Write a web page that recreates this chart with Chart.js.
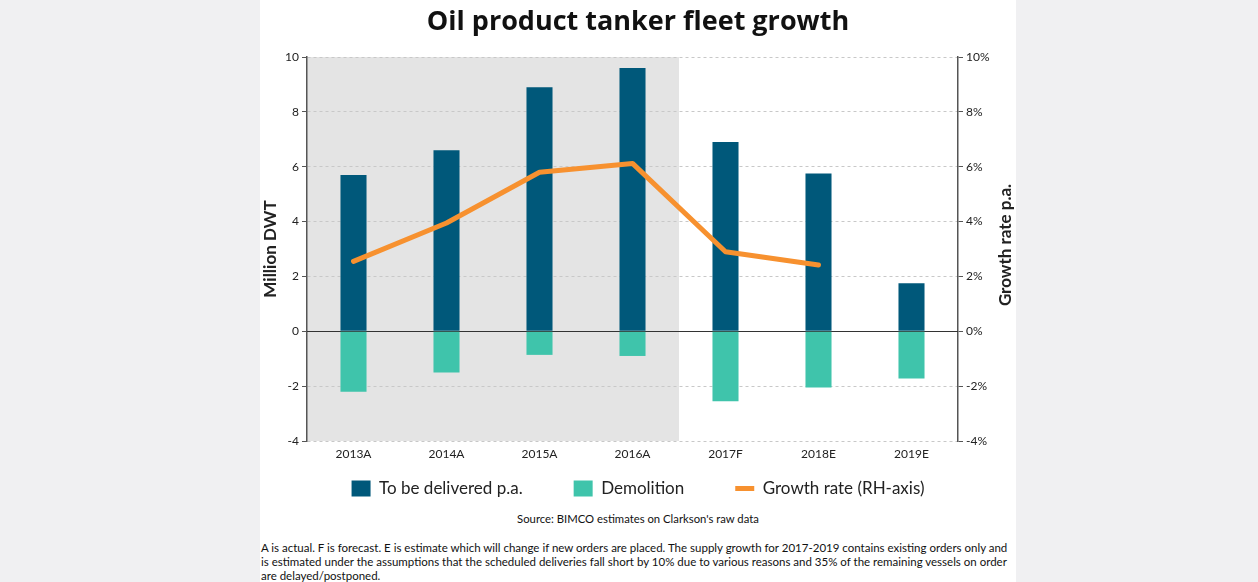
<!DOCTYPE html>
<html>
<head>
<meta charset="utf-8">
<script src="https://cdn.jsdelivr.net/npm/chart.js@4/dist/chart.umd.min.js"></script>
<style>
    body { margin: 0; background: #f0f0f2; width: 1258px; height: 582px; overflow: hidden; font-family: Lato, sans-serif; }
    #panel { position: absolute; left: 260px; top: 0; width: 756px; height: 582px; background: #fff; }
    #title { position: absolute; left: 0; top: 1px; width: 756px; text-align: center; font: bold 27px "Open Sans", sans-serif; color: #111; }
    #chartBox { position: absolute; left: 0; top: 0; width: 756px; height: 507px; }
    #source { position: absolute; left: 0; top: 512px; width: 756px; text-align: center; font-size: 11.3px; color: #111; font-family: "Liberation Sans Narrow", Lato, sans-serif; }
    #note { position: absolute; left: 1px; top: 541px; width: 760px; font-size: 11.5px; line-height: 14px; color: #111; font-family: "Liberation Sans Narrow", Lato, sans-serif; white-space: nowrap; }
</style>
</head>
<body>
<div id="panel">
    <div id="chartBox"><canvas id="fleetChart" width="756" height="507"></canvas></div>
    <div id="title">Oil product tanker fleet growth</div>
    <div id="source">Source: BIMCO estimates on Clarkson's raw data</div>
    <div id="note">A is actual. F is forecast. E is estimate which will change if new orders are placed. The supply growth for 2017-2019 contains existing orders only and<br>is estimated under the assumptions that the scheduled deliveries fall short by 10% due to various reasons and 35% of the remaining vessels on order<br>are delayed/postponed.</div>
</div>
<script>
// Dữ liệu
var categories = ["2013A", "2014A", "2015A", "2016A", "2017F", "2018E", "2019E"];
var deliveries = [5.7, 6.6, 8.9, 9.6, 6.9, 5.75, 1.75];
var demolition = [-2.2, -1.5, -0.86, -0.9, -2.55, -2.05, -1.72];
var growthRate = [2.55, 3.95, 5.8, 6.12, 2.9, 2.42, null];
var actualCount = 4; // số năm thực tế (vùng tô xám)
var rightTitle = "Growth rate p.a.";

// Vùng nền xám, đường 0 và tiêu đề trục phải
var shadePlugin = {
    id: "shade",
    beforeDraw: function (chart) {
        var x = chart.scales.x;
        var area = chart.chartArea;
        var edge = (x.getPixelForValue(actualCount - 1) + x.getPixelForValue(actualCount)) / 2;
        var ctx = chart.ctx;
        ctx.save();
        ctx.fillStyle = "#e4e4e4";
        ctx.fillRect(area.left, area.top, edge - area.left, area.bottom - area.top);
        ctx.restore();
    },
    beforeDatasetsDraw: function (chart) {
        var y = chart.scales.y;
        var area = chart.chartArea;
        var ctx = chart.ctx;
        var y0 = Math.round(y.getPixelForValue(0)) + 0.5;
        ctx.save();
        ctx.strokeStyle = "#333";
        ctx.lineWidth = 1.2;
        ctx.beginPath();
        ctx.moveTo(area.left, y0);
        ctx.lineTo(area.right, y0);
        ctx.stroke();
        ctx.restore();
    },
    afterDraw: function (chart) {
        var area = chart.chartArea;
        var ctx = chart.ctx;
        ctx.save();
        ctx.translate(chart.width - 10, (area.top + area.bottom) / 2 - 4);
        ctx.rotate(-Math.PI / 2);
        ctx.fillStyle = "#222";
        ctx.font = "bold 17px Lato";
        ctx.textAlign = "center";
        ctx.textBaseline = "middle";
        ctx.fillText(rightTitle, 0, 0);
        ctx.restore();
    },
};

var ctx = document.getElementById("fleetChart").getContext("2d");
new Chart(ctx, {
    type: "bar",
    data: {
        labels: categories,
        datasets: [
            {
                type: "line",
                label: "Growth rate (RH-axis)",
                data: growthRate,
                yAxisID: "y1",
                borderColor: "#f7912f",
                backgroundColor: "#f7912f",
                borderWidth: 5,
                borderCapStyle: "round",
                borderJoinStyle: "round",
                pointRadius: 0,
                pointStyle: "line",
                fill: false,
                tension: 0,
            },
            {
                label: "To be delivered p.a.",
                data: deliveries,
                backgroundColor: "#00587a",
                pointStyle: "rect",
                barPercentage: 0.28,
                categoryPercentage: 1,
            },
            {
                label: "Demolition",
                data: demolition,
                backgroundColor: "#3fc4ab",
                pointStyle: "rect",
                barPercentage: 0.28,
                categoryPercentage: 1,
            },
        ],
    },
    options: {
        responsive: false,
        animation: false,
        layout: { padding: { top: 57, bottom: 0, left: 0, right: 0 } },
        plugins: {
            title: { display: false },
            tooltip: { enabled: false },
            legend: {
                position: "bottom",
                labels: {
                    usePointStyle: true,
                    pointStyleWidth: 19,
                    boxHeight: 16,
                    padding: 17,
                    color: "#222",
                    font: { family: "Lato", size: 17 },
                    generateLabels: function (chart) {
                        var items = Chart.defaults.plugins.legend.labels.generateLabels(chart);
                        items.forEach(function (item) {
                            if (item.datasetIndex !== 0) {
                                item.text = item.text + "\u2002\u2002\u2002\u2002";
                            }
                        });
                        return items;
                    },
                    sort: function (a, b) {
                        return ((a.datasetIndex + 2) % 3) - ((b.datasetIndex + 2) % 3);
                    },
                },
            },
        },
        scales: {
            x: {
                stacked: true,
                grid: { display: false, drawTicks: false },
                border: { display: false },
                ticks: { color: "#222", font: { family: "Lato", size: 12 }, padding: 6 },
                afterFit: function (axis) { axis.height = 22; },
            },
            y: {
                stacked: true,
                position: "left",
                min: -4,
                max: 10,
                ticks: { stepSize: 2, color: "#222", font: { family: "Lato", size: 12 }, padding: 3 },
                grid: { color: "#c8c8c8", tickColor: "#555", tickLength: 5, tickBorderDash: [1, 0], lineWidth: 1 },
                border: { display: true, color: "#555", width: 1.5, dash: [3, 3] },
                title: { display: true, text: "Million DWT", color: "#222", font: { family: "Lato", size: 17, weight: "bold" }, padding: 0 },
                afterFit: function (axis) { axis.width = 47; },
            },
            y1: {
                position: "right",
                min: -4,
                max: 10,
                ticks: {
                    stepSize: 2,
                    color: "#222",
                    font: { family: "Lato", size: 12 },
                    padding: 3,
                    callback: function (v) { return v + "%"; },
                },
                grid: { drawOnChartArea: false, tickColor: "#555", tickLength: 5 },
                border: { display: true, color: "#555", width: 1.5 },
                title: { display: false },
                afterFit: function (axis) { axis.width = 58; },
            },
        },
    },
    plugins: [shadePlugin],
});
</script>
</body>
</html>
